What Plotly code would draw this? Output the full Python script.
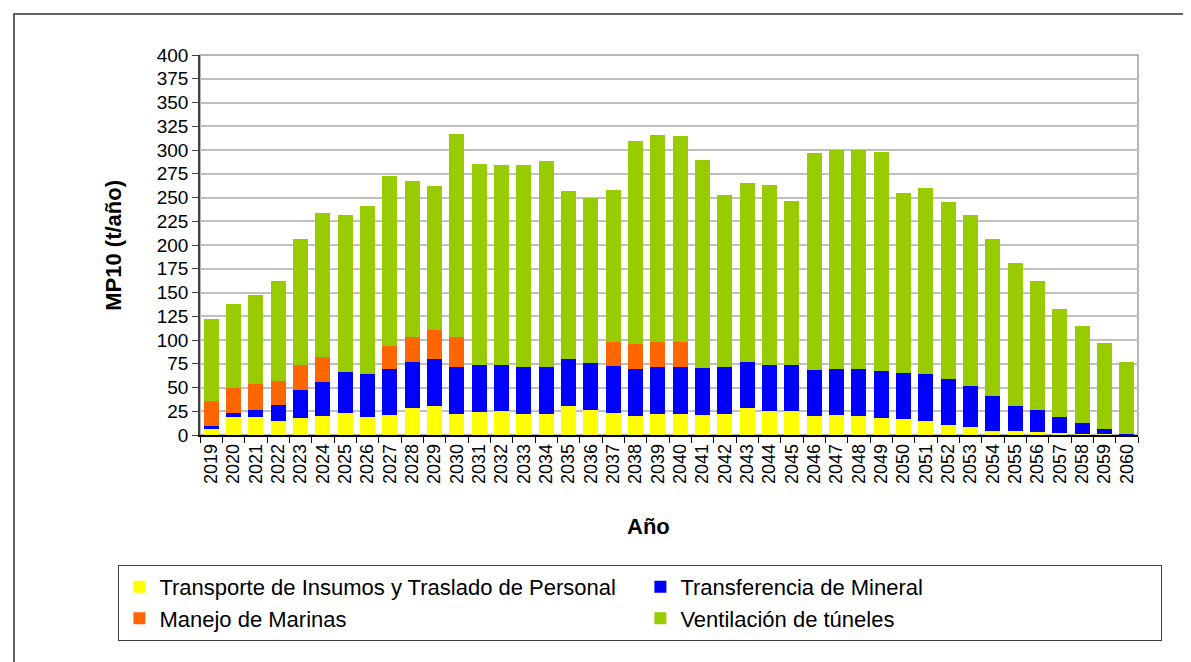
import plotly.graph_objects as go

# Datos de emisiones MP10 (t/año) por fuente
anios = [str(a) for a in range(2019, 2061)]

transporte = [6.7, 19.0, 19.0, 14.7, 17.9, 20.0, 23.2, 19.0, 21.1, 28.4,
              30.6, 22.1, 24.2, 25.3, 22.1, 22.1, 30.6, 26.3, 23.2, 20.0,
              22.1, 22.1, 21.1, 22.1, 28.4, 25.3, 25.3, 20.0, 21.1, 20.0,
              17.9, 16.9, 14.7, 10.5, 8.4, 4.2, 4.2, 3.2, 2.1, 1.1,
              1.0, 0.3]
transferencia = [2.8, 4.2, 7.3, 16.9, 29.5, 35.8, 43.2, 45.3, 48.4, 48.5,
                 49.5, 49.5, 49.5, 48.4, 49.5, 49.5, 49.5, 49.6, 49.5, 49.5,
                 49.5, 49.5, 49.5, 49.5, 48.5, 48.4, 48.4, 48.5, 48.4, 49.5,
                 49.5, 48.4, 49.6, 48.5, 43.2, 36.9, 26.4, 23.1, 16.9, 11.5,
                 5.3, 0.8]
marinas = [26.3, 26.7, 27.4, 25.6, 26.3, 26.4, 0, 0, 24.3, 26.3,
           30.5, 31.6, 0, 0, 0, 0, 0, 0, 25.3, 26.4,
           26.4, 26.4, 0, 0, 0, 0, 0, 0, 0, 0,
           0, 0, 0, 0, 0, 0, 0, 0, 0, 0,
           0, 0]
ventilacion = [86.4, 88.1, 93.8, 105.0, 132.8, 151.7, 165.4, 177.0, 179.1, 164.4,
               151.7, 213.9, 211.8, 210.8, 212.9, 217.1, 177.0, 173.8, 160.1, 213.8,
               218.1, 217.0, 219.1, 181.3, 188.6, 189.7, 172.8, 228.6, 230.8, 230.8,
               230.8, 189.7, 195.9, 186.5, 180.2, 165.4, 150.6, 135.9, 113.7, 102.2,
               90.6, 75.8]

series = [
    ("Transporte de Insumos y Traslado de Personal", transporte, "#FFFF00"),
    ("Transferencia de Mineral", transferencia, "#0000FF"),
    ("Manejo de Marinas", marinas, "#FF6600"),
    ("Ventilación de túneles", ventilacion, "#99CC00"),
]

FONT = "Liberation Sans, Arial, sans-serif"

fig = go.Figure()
for nombre, valores, color in series:
    fig.add_trace(go.Bar(x=anios, y=valores, name=nombre,
                         marker=dict(color=color, line=dict(width=0))))

fig.update_layout(
    width=1191, height=662,
    barmode="stack", bargap=0.33,
    paper_bgcolor="white", plot_bgcolor="white",
    font=dict(family=FONT, size=19, color="black"),
    margin=dict(l=192, r=61, t=47, b=235),
    showlegend=True,
    legend=dict(orientation="h", x=-0.087, xanchor="left", y=-0.342, yanchor="top",
                traceorder="normal", entrywidth=476, bordercolor="#404040", borderwidth=1,
                font=dict(size=22), itemclick=False),
    shapes=[
        # borde del área de gráfico
        dict(type="rect", xref="paper", yref="paper", x0=0, x1=1, y0=0, y1=1,
             line=dict(color="#A0A0A0", width=1.5), layer="below"),
        # marco exterior
        dict(type="rect", xref="paper", yref="paper", x0=-0.1983, x1=1.4, y0=-1.2, y1=1.108,
             line=dict(color="#303030", width=1.5)),
    ],
    annotations=[
        dict(text="<b>MP10 (t/año)</b>", xref="paper", yref="paper", x=-0.093, y=0.5,
             xanchor="center", yanchor="middle",
             textangle=-90, showarrow=False, font=dict(size=22)),
        dict(text="<b>Año</b>", xref="paper", yref="paper", x=0.478, y=-0.2395,
             xanchor="center", yanchor="middle",
             showarrow=False, font=dict(size=22)),
    ],
)

fig.update_yaxes(range=[0, 400], dtick=25, showgrid=True, gridcolor="#C0C0C0", gridwidth=1.5,
                 showline=True, linecolor="#404040", linewidth=1.5,
                 ticks="outside", ticklen=6, tickcolor="#404040", zeroline=False)
fig.update_xaxes(type="category", tickangle=-90, tickmode="linear", tick0=0, dtick=1,
                 tickfont=dict(size=18),
                 showline=True, linecolor="black", linewidth=1.5,
                 ticks="outside", ticklen=6, tickcolor="black", tickson="boundaries",
                 showgrid=False)

fig.write_html("out.html")
